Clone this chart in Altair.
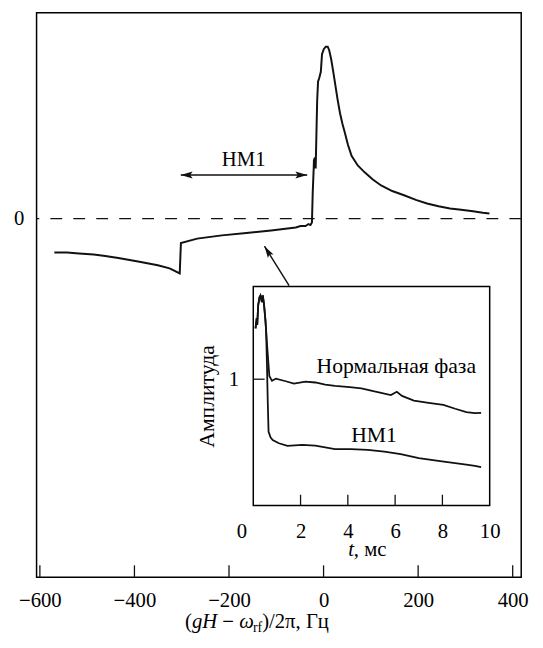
import altair as alt
import pandas as pd

# ---------------- data ----------------
main_x = [-569.4, -542.3, -517.3, -486.0, -461.7, -434.0, -392.3, -350.6, -325.6, -304.2,
          -301.7, -267.3, -215.2, -163.1, -111.0, -59.0, -48.5, -38.1, -31.9, -27.7,
          -24.6, -22.9, -20.8, -20.4, -18.3, -16.7, -14.6, -13.5, -11.7, -9.0,
          -5.8, -3.3, 0.4, 4.6, 8.75, 11.9, 16.0, 20.2, 24.4, 29.6,
          34.8, 40.0, 45.2, 51.5, 59.2, 72.3, 86.9, 103.5, 121.7, 145.2,
          170.2, 195.2, 218.8, 243.1, 267.5, 291.0, 316.0, 336.9, 350.8]
main_y = [-0.343, -0.345, -0.355, -0.365, -0.38, -0.40, -0.435, -0.473, -0.505, -0.557,
          -0.247, -0.203, -0.17, -0.145, -0.12, -0.09, -0.075, -0.075, -0.055, -0.065,
          -0.04, 0.27, 0.52, 0.59, 0.62, 0.51, 0.97, 1.20, 1.39, 1.43,
          1.49, 1.67, 1.72, 1.745, 1.745, 1.71, 1.62, 1.50, 1.37, 1.21,
          1.07, 0.96, 0.87, 0.75, 0.637, 0.54, 0.47, 0.40, 0.337, 0.28,
          0.237, 0.19, 0.153, 0.125, 0.103, 0.09, 0.075, 0.06, 0.053]

spike_t = [0.096, 0.146, 0.167, 0.208, 0.263, 0.304, 0.363, 0.404, 0.458, 0.513]
spike_a = [1.403, 1.483, 1.429, 1.585, 1.649, 1.663, 1.610, 1.663, 1.585, 1.468]
normal_t = [0.583, 0.679, 0.792, 0.958, 1.375, 1.721, 2.208, 2.625, 3.042, 3.458,
            4.083, 4.571, 5.125, 5.821, 6.071, 6.292, 6.792, 7.417, 8.042, 8.542,
            9.013, 9.375, 9.638]
normal_a = [1.273, 1.026, 0.987, 1.005, 0.984, 0.966, 0.981, 0.974, 0.957, 0.948,
            0.938, 0.928, 0.903, 0.875, 0.901, 0.868, 0.831, 0.813, 0.797, 0.766,
            0.740, 0.731, 0.733]
hm1_t = [0.542, 0.583, 0.613, 0.646, 0.729, 0.821, 1.083, 1.446, 2.071, 2.625,
         3.458, 4.125, 4.846, 5.542, 6.238, 7.0, 7.904, 8.458, 9.013, 9.375, 9.638]
hm1_a = [1.39, 1.078, 0.818, 0.585, 0.540, 0.519, 0.493, 0.472, 0.480, 0.474,
         0.447, 0.447, 0.441, 0.427, 0.408, 0.376, 0.351, 0.337, 0.324, 0.314, 0.304]

main_ticks = [-600, -400, -200, 0, 200, 400]
main_yticks = [0]
inset_ticks = [0, 2, 4, 6, 8, 10]
inset_inner_ticks = [2, 4, 6, 8]
inset_yticks = [1]

hm_arrow = {"x": -302.0, "x2": -34.6, "y": 0.443}
hm_label = {"x": -169.0, "y": 0.537, "text": "НМ1"}
pointer = {"x": -72.9, "y": -0.68, "x2": -125.0, "y2": -0.28}
inset_labels = pd.DataFrame({"t": [6.05, 5.11], "a": [1.052, 0.501],
                             "text": ["Нормальная фаза", "НМ1"]})

# ---------------- layout ----------------
W, H = 492, 573
XD, YD = [-607, 418], [-3.64, 2.09]
TD, AD = [0, 10], [0, 1.733]
XR, AR = [220, 460], [500.3, 278]
FONT, FS = "Liberation Serif", 21
INK = "#111111"

xs = alt.Scale(domain=XD, nice=False, zero=False)
ys = alt.Scale(domain=YD, nice=False, zero=False)
ts = alt.Scale(domain=TD, range=XR, nice=False, zero=False)
as_ = alt.Scale(domain=AD, range=AR, nice=False, zero=False)

main_xaxis = alt.Axis(values=main_ticks, tickSize=0, domain=False, grid=False, labelPadding=30,
                      labelBaseline="alphabetic", labelFlush=False, labelOverlap=False, title=None)
main_yaxis = alt.Axis(values=main_yticks, tickSize=0, domain=False, grid=False, labelPadding=13,
                      labelFlush=False, labelOverlap=False, title=None)
inset_xaxis = alt.Axis(orient="bottom", offset=-72.7, values=inset_ticks, tickSize=0, domain=False,
                       grid=False, labelPadding=32, labelBaseline="alphabetic", labelFlush=False,
                       labelOverlap=False, title=None,
                       labelOffset={"condition": {"test": "datum.value === 0", "value": -12}, "value": 0})
inset_yaxis = alt.Axis(orient="left", offset=-220, values=inset_yticks, tickSize=0, domain=False,
                       grid=False, labelPadding=15, labelFlush=False, labelOverlap=False,
                       title="Амплитуда", titleAngle=270, titleX=-47, titleY=389,
                       titleBaseline="middle", titleAlign="center", titleFont=FONT,
                       titleFontSize=22, titleFontWeight="normal", titleColor="black")

X = lambda f: alt.X(f, scale=xs, axis=main_xaxis)
Y = lambda f: alt.Y(f, scale=ys, axis=main_yaxis)
T = lambda f: alt.X(f, scale=ts, axis=inset_xaxis)
A = lambda f: alt.Y(f, scale=as_, axis=inset_yaxis)

df_main = pd.DataFrame({"x": main_x, "y": main_y, "i": range(len(main_x))})
curve = alt.Chart(df_main).mark_line(color=INK, strokeWidth=2).encode(
    x=X("x:Q"), y=Y("y:Q"), order="i:Q")

zero = alt.Chart(pd.DataFrame({"y": [0]})).mark_rule(
    color=INK, strokeWidth=1.5, strokeDash=[12, 11.3]).encode(y=Y("y:Q"))

xticks = alt.Chart(pd.DataFrame({"x": main_ticks})).mark_rule(color=INK, strokeWidth=1.3).encode(
    x=X("x:Q"), y=alt.value(H), y2=alt.value(H - 12))

arr_df = pd.DataFrame([hm_arrow])
arr_line = alt.Chart(arr_df).mark_rule(color=INK, strokeWidth=1.5).encode(
    x=X("x:Q"), x2="x2:Q", y=Y("y:Q"))
head_l = alt.Chart(pd.DataFrame({"x": [hm_arrow["x"]], "y": [hm_arrow["y"]]})).mark_point(
    shape="M 0 0 L 1 -0.3 L 0.8 0 L 1 0.3 Z", size=576, filled=True, color=INK, opacity=1).encode(
    x=X("x:Q"), y=Y("y:Q"))
head_r = alt.Chart(pd.DataFrame({"x": [hm_arrow["x2"]], "y": [hm_arrow["y"]]})).mark_point(
    shape="M 0 0 L -1 -0.3 L -0.8 0 L -1 0.3 Z", size=576, filled=True, color=INK, opacity=1).encode(
    x=X("x:Q"), y=Y("y:Q"))
hm_text = alt.Chart(pd.DataFrame([hm_label])).mark_text(
    font=FONT, fontSize=FS, color="black", baseline="alphabetic", align="center").encode(
    x=X("x:Q"), y=Y("y:Q"), text="text:N")

ptr_line = alt.Chart(pd.DataFrame([pointer])).mark_rule(color=INK, strokeWidth=1.5).encode(
    x=X("x:Q"), y=Y("y:Q"), x2="x2:Q", y2="y2:Q")
ptr_head = alt.Chart(pd.DataFrame({"x": [pointer["x2"]], "y": [pointer["y2"]]})).mark_point(
    shape="M 0 0 L -0.28 1 L 0 0.8 L 0.28 1 Z", size=576, angle=328, filled=True,
    color=INK, opacity=1).encode(x=X("x:Q"), y=Y("y:Q"))


def seg(text, x, y, size=FS, style="normal"):
    return alt.Chart(pd.DataFrame({"s": [text]})).mark_text(
        font=FONT, fontSize=size, fontStyle=style, color="black", align="left",
        baseline="alphabetic").encode(x=alt.value(x), y=alt.value(y), text="s:N")


x0, yb = 150.7, 625
title_parts = [
    seg("(", x0, yb),
    seg("gH", x0 + 7.0, yb, style="italic"),
    seg("\u2212", x0 + 37.9, yb),
    seg("ω", x0 + 55.0, yb, style="italic"),
    seg("rf", x0 + 69.0, yb + 4, size=14),
    seg(")/2π, Гц", x0 + 78.3, yb),
    seg("t", 316.3, 551.5, style="italic"),
    seg(", мс", 322.1, 551.5),
]

main_group = alt.layer(zero, xticks, curve, arr_line, head_l, head_r, hm_text,
                       ptr_line, ptr_head, *title_parts)

frame = alt.Chart(pd.DataFrame({"t0": [TD[0]], "t1": [TD[1]], "a0": [AD[0]], "a1": [AD[1]]})).mark_rect(
    fill="white", stroke="black", strokeWidth=1.5).encode(
    x=T("t0:Q"), x2="t1:Q", y=A("a0:Q"), y2="a1:Q")

df_n = pd.DataFrame({"t": spike_t + normal_t, "a": spike_a + normal_a})
df_n["i"] = range(len(df_n))
df_h = pd.DataFrame({"t": spike_t + hm1_t, "a": spike_a + hm1_a})
df_h["i"] = range(len(df_h))
line_n = alt.Chart(df_n).mark_line(color=INK, strokeWidth=1.8).encode(
    x=T("t:Q"), y=A("a:Q"), order="i:Q")
line_h = alt.Chart(df_h).mark_line(color=INK, strokeWidth=1.8).encode(
    x=T("t:Q"), y=A("a:Q"), order="i:Q")

in_xt = alt.Chart(pd.DataFrame({"t": inset_inner_ticks})).mark_rule(color=INK, strokeWidth=1.3).encode(
    x=T("t:Q"), y=alt.value(AR[0]), y2=alt.value(AR[0] - 11))
in_yt = alt.Chart(pd.DataFrame({"a": inset_yticks})).mark_rule(color=INK, strokeWidth=1.3).encode(
    y=A("a:Q"), x=alt.value(XR[0]), x2=alt.value(XR[0] + 11.5))
in_text = alt.Chart(inset_labels).mark_text(
    font=FONT, fontSize=22, color="black", baseline="alphabetic", align="center").encode(
    x=T("t:Q"), y=A("a:Q"), text="text:N")

inset_group = alt.layer(frame, line_n, line_h, in_xt, in_yt, in_text)

chart = alt.layer(main_group, inset_group).resolve_scale(
    x="independent", y="independent"
).properties(
    width=W, height=H,
    autosize=alt.AutoSizeParams(type="none"),
    padding={"left": 29, "top": 0, "right": 14, "bottom": 62},
).configure_view(
    stroke="black", strokeWidth=1.5
).configure_axis(
    labelFont=FONT, labelFontSize=FS, labelColor="black"
)

chart.save("out.html", embed_options={"renderer": "svg", "actions": False})
